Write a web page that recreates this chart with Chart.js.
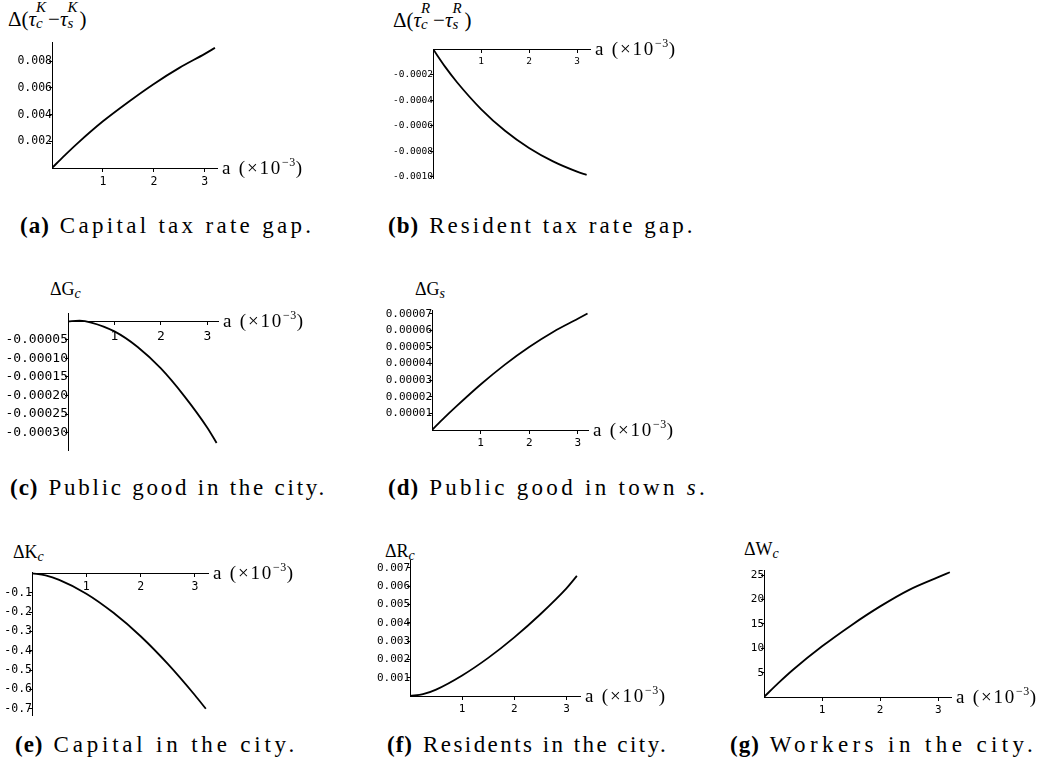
<!DOCTYPE html>
<html>
<head>
<meta charset="utf-8">
<script src="https://cdn.jsdelivr.net/npm/chart.js@4.4.0/dist/chart.umd.min.js"></script>
<style>
  body { margin: 0; background: #fff; width: 1046px; height: 761px; position: relative; overflow: hidden;
         font-family: "Liberation Serif", "Times New Roman", serif; color: #000; }
  .lbl { position: absolute; white-space: nowrap; line-height: 1; }
  .ss { position: relative; display: inline-block; }
  .ss i { position: absolute; left: 0; line-height: 1; }
  .xl { position: absolute; white-space: nowrap; line-height: 1; font-size: 19px; letter-spacing: 1.8px; }
  .xl sup { font-size: 12px; position: relative; top: -1px; letter-spacing: 0.5px; }
  .cap { position: absolute; white-space: nowrap; line-height: 1; font-size: 23px; letter-spacing: 2.8px; }
  .cap b { margin-right: 10px; letter-spacing: 1px; }
</style>
</head>
<body>
<div class="lbl" id="ya" style="font-size:21px">&Delta;(<i>&tau;</i><span class="ss" style="width:12px"><i style="bottom:11px;font-size:15px">K</i><i style="bottom:-5px;font-size:15px">c</i></span>&minus;<i>&tau;</i><span class="ss" style="width:12px"><i style="bottom:11px;font-size:15px">K</i><i style="bottom:-5px;font-size:15px">s</i></span>)</div>
<div class="lbl" id="yb" style="font-size:21px">&Delta;(<i>&tau;</i><span class="ss" style="width:12px"><i style="bottom:11px;font-size:15px">R</i><i style="bottom:-5px;font-size:15px">c</i></span>&minus;<i>&tau;</i><span class="ss" style="width:12px"><i style="bottom:11px;font-size:15px">R</i><i style="bottom:-5px;font-size:15px">s</i></span>)</div>
<div class="lbl" id="yc" style="font-size:18px">&Delta;G<span class="ss" style="width:8px"><i style="bottom:-6px;font-size:14px">c</i></span></div>
<div class="lbl" id="yd" style="font-size:18px">&Delta;G<span class="ss" style="width:8px"><i style="bottom:-6px;font-size:14px">s</i></span></div>
<div class="lbl" id="ye" style="font-size:18px">&Delta;K<span class="ss" style="width:8px"><i style="bottom:-6px;font-size:14px">c</i></span></div>
<div class="lbl" id="yf" style="font-size:18px">&Delta;R<span class="ss" style="width:8px"><i style="bottom:-6px;font-size:14px">c</i></span></div>
<div class="lbl" id="yg" style="font-size:18px">&Delta;W<span class="ss" style="width:8px"><i style="bottom:-6px;font-size:14px">c</i></span></div>

<div class="cap" style="left:20px;top:214px;letter-spacing:3.3px"><b>(a)</b>Capital tax rate gap.</div>
<div class="cap" style="left:388px;top:214px;letter-spacing:3.05px"><b>(b)</b>Resident tax rate gap.</div>
<div class="cap" style="left:10px;top:476px;letter-spacing:2.75px"><b>(c)</b>Public good in the city.</div>
<div class="cap" style="left:388px;top:476px;letter-spacing:3.3px"><b>(d)</b>Public good in town <i>s</i>.</div>
<div class="cap" style="left:15px;top:733px;letter-spacing:3.8px"><b>(e)</b>Capital in the city.</div>
<div class="cap" style="left:387px;top:733px;letter-spacing:2.45px"><b>(f)</b>Residents in the city.</div>
<div class="cap" style="left:730px;top:733px;letter-spacing:4.4px"><b>(g)</b>Workers in the city.</div>

<script>
// a in units of 10^-3
const aGrid = [0, 0.25, 0.5, 1, 1.5, 2, 2.5, 3, 3.2];
const xTickLabels = ['1', '2', '3'];

const capitalTaxGap  = [0, 0.00095, 0.00185, 0.0035, 0.00495, 0.0063, 0.0075, 0.00855, 0.0090];
const residentTaxGap = [0, -0.000138, -0.00026, -0.00047, -0.00064, -0.000775, -0.00088, -0.00096, -0.000985];
const publicGoodCity = [0, 0.000002, -0.000003, -0.000027, -0.000069, -0.000127, -0.000201, -0.000287, -0.000328];
const publicGoodTown = [0, 0.0000073, 0.0000142, 0.0000274, 0.0000394, 0.00005, 0.0000592, 0.000067, 0.0000702];
const capitalCity    = [0, -0.011, -0.034, -0.105, -0.204, -0.325, -0.468, -0.63, -0.70];
const residentsCity  = [0, 0.0001, 0.00035, 0.00112, 0.00208, 0.0032, 0.00446, 0.00587, 0.00655];
const workersCity    = [0, 2.9, 5.6, 10.4, 14.7, 18.6, 22.0, 24.6, 25.6];

// y tick labels
const yTicksA = ['0.002', '0.004', '0.006', '0.008'];
const yTicksB = ['-0.0002', '-0.0004', '-0.0006', '-0.0008', '-0.0010'];
const yTicksC = ['-0.00005', '-0.00010', '-0.00015', '-0.00020', '-0.00025', '-0.00030'];
const yTicksD = ['0.00001', '0.00002', '0.00003', '0.00004', '0.00005', '0.00006', '0.00007'];
const yTicksE = ['-0.1', '-0.2', '-0.3', '-0.4', '-0.5', '-0.6', '-0.7'];
const yTicksF = ['0.001', '0.002', '0.003', '0.004', '0.005', '0.006', '0.007'];
const yTicksG = ['5', '10', '15', '20', '25'];

// plot boxes in page pixels: x0 = left edge (a=0), xR = right end, yTop/yBot
const panels = [
  { id: 'a', values: capitalTaxGap,  yTicks: yTicksA, xmax: 3.24, ymin: 0,         ymax: 0.00944,
    x0: 52,  xR: 217, yTop: 42,  yBot: 168, font: 11.5, ylab: [8, 27] },
  { id: 'b', values: residentTaxGap, yTicks: yTicksB, xmax: 3.27, ymin: -0.00101,  ymax: 0,
    x0: 433, xR: 590, yTop: 49,  yBot: 178, font: 9.5, ylab: [393, 28] },
  { id: 'c', values: publicGoodCity, yTicks: yTicksC, xmax: 3.23, ymin: -0.000347, ymax: 0.0000227,
    x0: 68,  xR: 218, yTop: 313, yBot: 450, font: 13, ylab: [50, 295] },
  { id: 'd', values: publicGoodTown, yTicks: yTicksD, xmax: 3.21, ymin: 0,         ymax: 0.0000723,
    x0: 432, xR: 588, yTop: 310, yBot: 430, font: 11, ylab: [415, 295] },
  { id: 'e', values: capitalCity,    yTicks: yTicksE, xmax: 3.24, ymin: -0.732,    ymax: 0.007,
    x0: 32,  xR: 208, yTop: 572, yBot: 715, font: 11.5, ylab: [13, 558] },
  { id: 'f', values: residentsCity,  yTicks: yTicksF, xmax: 3.26, ymin: 0,         ymax: 0.00742,
    x0: 410, xR: 580, yTop: 560, yBot: 696, font: 11, ylab: [385, 557] },
  { id: 'g', values: workersCity,    yTicks: yTicksG, xmax: 3.22, ymin: 0,         ymax: 26.07,
    x0: 764, xR: 951, yTop: 570, yBot: 697, font: 11, ylab: [744, 555] },
];

function drawPanel(p) {
  const left = Math.max(0, p.x0 - 80), top = p.yTop - 12;
  const w = p.xR + 14 - left, h = p.yBot + 30 - top;
  const cv = document.createElement('canvas');
  cv.width = w; cv.height = h;
  cv.style.cssText = `position:absolute;left:${left}px;top:${top}px;width:${w}px;height:${h}px`;
  document.body.appendChild(cv);

  const tickFont = { family: '"DejaVu Sans Mono", monospace', size: p.font };

  new Chart(cv, {
    type: 'line',
    data: {
      datasets: [{
        data: aGrid.map((a, i) => ({ x: a, y: p.values[i] })),
        borderColor: '#000',
        borderWidth: 1.8,
        pointRadius: 0,
        cubicInterpolationMode: 'monotone',
        fill: false,
      }],
    },
    options: {
      responsive: false,
      animation: false,
      devicePixelRatio: 1,
      layout: { padding: { left: p.x0 - left, top: p.yTop - top, right: left + w - p.xR, bottom: top + h - p.yBot } },
      plugins: { legend: { display: false }, tooltip: { enabled: false } },
      scales: {
        x: {
          type: 'linear', min: 0, max: p.xmax, position: { y: 0 },
          afterBuildTicks: (s) => { s.ticks = xTickLabels.map((t) => ({ value: Number(t) })); },
          afterFit: (s) => { s.height = 0; },
          ticks: { font: tickFont, color: '#000', padding: 4, maxRotation: 0, autoSkip: false,
                   callback: (v, i) => xTickLabels[i] },
          grid: { drawOnChartArea: false, drawTicks: true, tickLength: 3, color: '#000' },
          border: { color: '#000', width: 1 },
        },
        y: {
          type: 'linear', min: p.ymin, max: p.ymax, position: { x: 0 },
          afterBuildTicks: (s) => { s.ticks = p.yTicks.map((t) => ({ value: Number(t) })); },
          afterFit: (s) => { s.width = 0; },
          ticks: { font: tickFont, color: '#000', padding: 1, autoSkip: false,
                   callback: (v, i) => p.yTicks[i] },
          grid: { drawOnChartArea: false, drawTicks: true, tickLength: 3, color: '#000' },
          border: { color: '#000', width: 1 },
        },
      },
    },
  });

  // axis titles
  const yl = document.getElementById('y' + p.id);
  const fs = parseFloat(yl.style.fontSize);
  yl.style.left = p.ylab[0] + 'px';
  yl.style.top = (p.ylab[1] - 0.8375 * fs) + 'px';

  const zeroY = p.yTop + (p.ymax / (p.ymax - p.ymin)) * (p.yBot - p.yTop);
  const xl = document.createElement('div');
  xl.className = 'xl';
  xl.innerHTML = 'a (&times;10<sup>&minus;3</sup>)';
  xl.style.left = (p.xR + 5) + 'px';
  xl.style.top = (zeroY + 5 - 0.8375 * 19) + 'px';
  document.body.appendChild(xl);
}

panels.forEach(drawPanel);
</script>
</body>
</html>
